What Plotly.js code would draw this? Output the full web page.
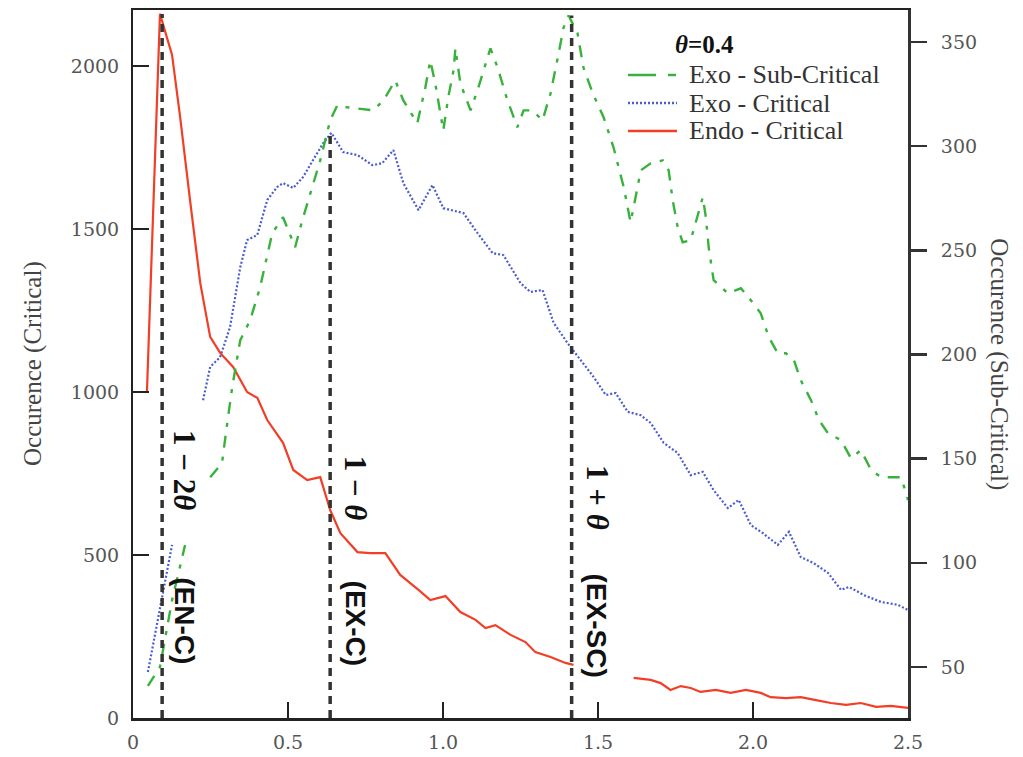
<!DOCTYPE html>
<html><head><meta charset="utf-8">
<script src="https://cdn.plot.ly/plotly-3.0.1.min.js"></script>
<style>html,body{margin:0;padding:0;background:#fff;} #chart{width:1023px;height:757px;}</style>
</head><body><div id="chart"></div>
<script>
// ---- data ----
const redX = [0.045,0.087,0.126,0.152,0.184,0.217,0.249,0.281,0.323,0.368,0.401,0.433,0.484,0.517,0.562,0.604,0.636,0.669,0.724,0.765,0.814,0.862,0.921,0.959,1.008,1.056,1.105,1.137,1.169,1.218,1.266,1.298,1.347,1.395,1.421,null,1.615,1.670,1.702,1.734,1.767,1.799,1.831,1.880,1.928,1.977,2.025,2.057,2.106,2.154,2.203,2.251,2.300,2.348,2.397,2.445,2.500];
const redY = [1000,2160,2034,1844,1589,1334,1169,1120,1077,1000,982,914,844,761,730,739,638,567,509,506,506,439,393,362,374,325,301,276,285,255,233,202,187,169,163,null,123,117,107,86,98,92,80,86,77,86,77,64,61,64,55,46,40,46,34,37,31];

const blueX = [0.048,0.126,null,0.226,0.249,0.281,0.313,0.346,0.368,0.401,0.433,0.465,0.484,0.517,0.549,0.581,0.614,0.640,0.678,0.724,0.772,0.804,0.840,0.872,0.921,0.966,1.001,1.066,1.111,1.160,1.195,1.250,1.282,1.321,1.357,1.402,1.444,1.486,1.525,1.557,1.596,1.638,1.670,1.712,1.757,1.799,1.838,1.873,1.919,1.954,1.993,2.032,2.080,2.116,2.154,2.196,2.242,2.284,2.310,2.358,2.413,2.468,2.500];
const blueY = [141,531,null,975,1077,1107,1199,1383,1466,1482,1589,1629,1641,1626,1660,1712,1764,1795,1736,1727,1696,1702,1742,1641,1558,1635,1564,1549,1488,1426,1420,1334,1307,1313,1212,1150,1098,1046,991,997,939,929,905,844,813,745,755,699,644,669,592,567,531,571,494,475,445,393,402,377,356,347,331];

const greenX = [0.048,0.087,0.126,0.168,null,0.249,0.287,0.304,0.320,0.346,0.378,0.410,0.433,0.449,0.484,0.501,0.523,0.546,0.572,0.604,0.636,0.659,0.691,0.727,0.775,0.808,0.846,0.872,0.917,0.943,0.959,0.975,1.001,1.017,1.034,1.040,1.056,1.089,1.114,1.153,1.176,1.208,1.240,1.260,1.289,1.321,1.347,1.373,1.389,1.405,1.434,1.453,1.483,1.518,1.550,1.583,1.605,1.615,1.638,1.670,1.709,1.728,1.741,1.757,1.773,1.799,1.822,1.838,1.848,1.857,1.873,1.919,1.961,1.993,2.025,2.051,2.080,2.106,2.132,2.154,2.187,2.213,2.242,2.284,2.316,2.348,2.381,2.413,2.445,2.477,2.494,2.500];
const greenY = [40.9,50.0,82.1,108.5,null,141.1,147.8,167.0,184.3,206.9,216.5,232.3,248.6,258.2,265.9,259.6,251.5,264.4,277.4,293.2,312.4,319.6,318.7,318.2,317.2,322.0,331.6,322.0,311.0,328.2,341.2,330.2,307.6,323.5,336.4,347.0,330.2,317.2,328.2,347.0,337.8,322.0,309.1,317.2,317.2,312.4,325.4,344.6,357.0,362.8,354.2,337.8,325.4,313.9,299.5,280.3,263.5,270.7,288.4,291.8,293.2,288.4,274.0,261.1,253.9,254.8,267.8,275.5,265.9,251.5,235.7,229.4,231.8,226.1,219.8,208.3,200.6,200.6,197.3,187.7,178.1,168.5,162.2,158.9,150.2,154.1,144.5,141.1,141.1,141.1,133.5,130.1];

const seriesNames = ['Exo - Sub-Critical','Exo - Critical','Endo - Critical'];
const legendTitle = '<b><i>θ</i>=0.4</b>';

const xTickVals = [0,0.5,1.0,1.5,2.0,2.5];
const xTickText = ['0','0.5','1.0','1.5','2.0','2.5'];
const leftTickVals = [0,500,1000,1500,2000];
const rightTickVals = [50,100,150,200,250,300,350];
const leftTitle = 'Occurence (Critical)';
const rightTitle = 'Occurence (Sub-Critical)';

const markerX = [0.094,0.636,1.415];
const markerTop = [2160,1795,362.8];
const markerAxis = ['y','y','y2'];
const markerMath = ['1 − 2<i>θ</i>','1 − <i>θ</i>','1 + <i>θ</i>'];
const markerTag = ['(EN-C)','(EX-C)','(EX-SC)'];

// ---- styles / positions ----
const colors = ['#38b23c','#4a5cd0','#f23e26'];
const dashes = ['12px,9px,4px,9px','2px,2px','solid'];
const widths = [2.4,2.2,2.2];
const legendDashes = ['28px,12px,8px','2px,2px','solid'];

const mathLabelX = [0.168,0.717,1.496];
const mathLabelY = [0.35,0.325,0.311];
const tagLabelY = [0.138,0.133,0.131];

const traces = [
  {x: greenX, y: greenY, yaxis:'y2'},
  {x: blueX, y: blueY},
  {x: redX, y: redY}
].map((t,i)=>Object.assign(t,{name:seriesNames[i], mode:'lines', connectgaps:false, showlegend:false,
   line:{color:colors[i], width:widths[i], dash:dashes[i]}}));

const shapes = markerX.map((mx,i)=>({
  type:'line', xref:'x', yref: markerAxis[i], x0:mx, x1:mx,
  y0: markerAxis[i]==='y' ? 0 : 25.5, y1: markerTop[i],
  line:{color:'#333', width:3.5, dash:'8px,6px'}
}));

const annotations = [];
markerX.forEach((mx,i)=>{
  annotations.push({xref:'x', yref:'paper', x:mathLabelX[i], y:mathLabelY[i], xanchor:'center', yanchor:'middle',
    text:'<b>'+markerMath[i]+'</b>', textangle:90, showarrow:false,
    font:{family:'Liberation Serif', size:31, color:'#111'}});
  annotations.push({xref:'x', yref:'paper', x:mathLabelX[i], y:tagLabelY[i], xanchor:'center', yanchor:'middle',
    text:'<b>'+markerTag[i]+'</b>', textangle:90, showarrow:false,
    font:{family:'Liberation Sans Narrow, Liberation Sans', size:28, color:'#111'}});
});
annotations.push({xref:'paper', yref:'paper', x:-0.129, y:0.5, xanchor:'center', yanchor:'middle',
  text:leftTitle, textangle:-90, showarrow:false, font:{family:'Liberation Serif', size:25, color:'#444'}});
annotations.push({xref:'paper', yref:'paper', x:1.118, y:0.499, xanchor:'center', yanchor:'middle',
  text:rightTitle, textangle:90, showarrow:false, font:{family:'Liberation Serif', size:25, color:'#444'}});

// custom legend (samples + labels), paper coordinates
const legRowY = [0.9082,0.8686,0.8291];
annotations.push({xref:'paper', yref:'paper', x:0.738, y:0.9506, xanchor:'center', yanchor:'middle',
  text:legendTitle, showarrow:false, font:{family:'Liberation Serif', size:25, color:'#111'}});
seriesNames.forEach((n,i)=>{
  shapes.push({type:'line', xref:'paper', yref:'paper', x0:0.6387, x1:0.7019, y0:legRowY[i], y1:legRowY[i],
    line:{color:colors[i], width:2.4, dash:legendDashes[i]}});
  annotations.push({xref:'paper', yref:'paper', x:0.7148, y:legRowY[i], xanchor:'left', yanchor:'middle',
    text:n, showarrow:false, font:{family:'Liberation Serif', size:26, color:'#333'}});
});

const tickFont = {family:'DejaVu Serif', size:19, color:'#555'};

const layout = {
  width:1023, height:757,
  margin:{l:133, r:115, t:10, b:39},
  paper_bgcolor:'#fff', plot_bgcolor:'#fff',
  showlegend:false,
  xaxis:{range:[0,2.5], tickvals:xTickVals, ticktext:xTickText, ticks:'inside', ticklen:16, tickwidth:2,
    tickcolor:'#222', showline:true, linecolor:'#222', linewidth:2.5, mirror:true, showgrid:false, zeroline:false,
    tickfont:tickFont, ticklabelstandoff:6},
  yaxis:{range:[0,2172], tickvals:leftTickVals, ticks:'inside', ticklen:16, tickwidth:2, tickcolor:'#222',
    showline:true, linecolor:'#222', linewidth:2, showgrid:false, zeroline:false, tickfont:tickFont, ticklabelstandoff:8},
  yaxis2:{range:[25.5,365.4], overlaying:'y', side:'right', tickvals:rightTickVals, ticks:'outside', ticklen:16,
    tickwidth:2.5, tickcolor:'#333', showline:true, linecolor:'#333', linewidth:3, showgrid:false, zeroline:false,
    tickfont:tickFont, ticklabelstandoff:10},
  shapes: shapes,
  annotations: annotations
};

Plotly.newPlot('chart', traces, layout, {displayModeBar:false, staticPlot:true});
</script></body></html>
